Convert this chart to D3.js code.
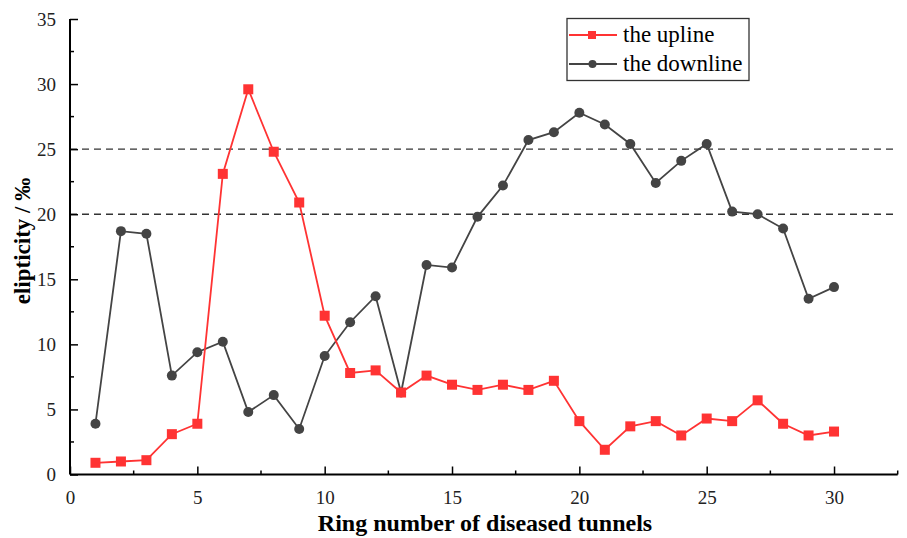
<!DOCTYPE html>
<html><head><meta charset="utf-8">
<script src="https://cdn.jsdelivr.net/npm/d3@7"></script>
<style>body{margin:0;background:#fff}svg{display:block}</style>
</head><body><svg id="c" width="907" height="538"></svg>
<script>
const rings = d3.range(1, 31);
const upline = [0.9,1.0,1.1,3.1,3.9,23.1,29.6,24.8,20.9,12.2,7.8,8.0,6.3,7.6,6.9,6.5,6.9,6.5,7.2,4.1,1.9,3.7,4.1,3.0,4.3,4.1,5.7,3.9,3.0,3.3];
const downline = [3.9,18.7,18.5,7.6,9.4,10.2,4.8,6.1,3.5,9.1,11.7,13.7,6.3,16.1,15.9,19.8,22.2,25.7,26.3,27.8,26.9,25.4,22.4,24.1,25.4,20.2,20.0,18.9,13.5,14.4];
const xTicks = [0,5,10,15,20,25,30];
const yTicks = [0,5,10,15,20,25,30,35];
const refLines = [20,25];
const seriesNames = ["the upline","the downline"];

const svg = d3.select("#c");
const L=70, R=897.7, T=19, B=474.5;
const x = d3.scaleLinear().domain([0,32.5]).range([L,R]);
const y = d3.scaleLinear().domain([0,35]).range([B,T]);
const font = "Liberation Serif";

svg.selectAll("line.ref").data(refLines).join("line")
  .attr("x1",L).attr("x2",R).attr("y1",d=>y(d)).attr("y2",d=>y(d))
  .attr("stroke","#333").attr("stroke-width",1.4).attr("stroke-dasharray","7,5");

const xAxis = svg.append("g").attr("transform",`translate(0,${B})`)
  .call(d3.axisBottom(x).tickValues(xTicks).tickSizeInner(-8).tickSizeOuter(0).tickPadding(16));
const yAxis = svg.append("g").attr("transform",`translate(${L},0)`)
  .call(d3.axisLeft(y).tickValues(yTicks).tickSizeInner(-8).tickSizeOuter(0).tickPadding(14));
svg.append("g").selectAll("line").data(d3.range(2.5,33,5)).join("line")
  .attr("x1",d=>x(d)).attr("x2",d=>x(d)).attr("y1",B).attr("y2",B-4).attr("stroke","#000").attr("stroke-width",1.5);
svg.append("g").selectAll("line").data(d3.range(2.5,35,5)).join("line")
  .attr("y1",d=>y(d)).attr("y2",d=>y(d)).attr("x1",L).attr("x2",L+4).attr("stroke","#000").attr("stroke-width",1.5);
[xAxis,yAxis].forEach(g=>{
  g.attr("font-family",font);
  g.select(".domain").attr("stroke","#000").attr("stroke-width",2);
  g.selectAll(".tick line").attr("stroke","#000").attr("stroke-width",1.5);
  g.selectAll("text").attr("font-family",font).attr("font-size",19).attr("fill","#222");
});
xAxis.select(".domain").attr("d",`M${L},0H${R}`);
yAxis.select(".domain").attr("d",`M0,${B}V${T}`);

const line = d3.line().x((d,i)=>x(rings[i])).y(d=>y(d));
svg.append("path").datum(downline).attr("d",line).attr("fill","none").attr("stroke","#444").attr("stroke-width",1.8);
svg.append("path").datum(upline).attr("d",line).attr("fill","none").attr("stroke","#ff3333").attr("stroke-width",1.8);
svg.append("g").selectAll("circle").data(downline).join("circle")
  .attr("cx",(d,i)=>x(rings[i])).attr("cy",d=>y(d)).attr("r",5).attr("fill","#444");
svg.append("g").selectAll("rect").data(upline).join("rect")
  .attr("x",(d,i)=>x(rings[i])-5).attr("y",d=>y(d)-5).attr("width",10).attr("height",10).attr("fill","#ff3333");

svg.append("text").attr("x",485).attr("y",531).attr("text-anchor","middle").attr("font-family",font)
  .attr("font-weight","bold").attr("font-size",24).text("Ring number of diseased tunnels");
svg.append("text").attr("transform","translate(30,241) rotate(-90)").attr("text-anchor","middle").attr("font-family",font)
  .attr("font-weight","bold").attr("font-size",23).text("elipticity / ‰");

const lg = svg.append("g");
lg.append("rect").attr("x",567).attr("y",18.5).attr("width",182).attr("height",62)
  .attr("fill","#fff").attr("stroke","#333").attr("stroke-width",1.3);
const cols = ["#ff3333","#444"];
seriesNames.forEach((n,i)=>{
  const cy = 35 + i*29;
  lg.append("line").attr("x1",569).attr("x2",617).attr("y1",cy).attr("y2",cy).attr("stroke",cols[i]).attr("stroke-width",1.8);
  if(i===0) lg.append("rect").attr("x",588).attr("y",cy-4).attr("width",8).attr("height",8).attr("fill",cols[i]);
  else lg.append("circle").attr("cx",592.5).attr("cy",cy).attr("r",4).attr("fill",cols[i]);
  lg.append("text").attr("x",623).attr("y",cy+7).attr("font-family",font).attr("font-size",23).attr("fill","#000").text(n);
});
</script></body></html>
